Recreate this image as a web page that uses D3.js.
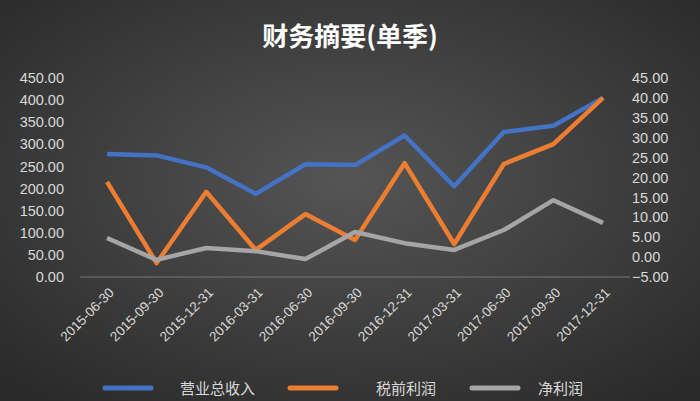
<!DOCTYPE html>
<html><head><meta charset="utf-8">
<script src="https://cdn.jsdelivr.net/npm/d3@7"></script>
<style>body{margin:0;}svg{display:block;font-family:"Noto Sans CJK SC","DejaVu Sans",sans-serif;}</style>
</head><body><svg id="c" width="700" height="401"></svg>
<script>
const dates = ["2015-06-30","2015-09-30","2015-12-31","2016-03-31","2016-06-30","2016-09-30","2016-12-31","2017-03-31","2017-06-30","2017-09-30","2017-12-31"];
const revenue = [278, 275, 248, 188, 255, 253, 320, 205, 328, 342, 405];
const pretax = [18.9, -1.5, 16.4, 1.8, 10.8, 4.3, 23.6, 3.3, 23.4, 28.4, 40.0];
const netProfit = [4.8, -0.7, 2.3, 1.5, -0.5, 6.3, 3.5, 1.8, 6.8, 14.3, 8.6];
const leftTicks = d3.range(0, 451, 50);
const rightTicks = d3.range(-5, 46, 5);

const svg = d3.select("#c");
const defs = svg.append("defs");
const g = defs.append("radialGradient").attr("id", "bg").attr("cx", "50%").attr("cy", "45%").attr("r", "70%");
g.append("stop").attr("offset", "0%").attr("stop-color", "#555");
g.append("stop").attr("offset", "100%").attr("stop-color", "#2a2a2a");
svg.append("rect").attr("width", 700).attr("height", 401).attr("fill", "url(#bg)");

svg.append("text").attr("x", 350).attr("y", 46).attr("text-anchor", "middle")
  .attr("fill", "#fff").attr("font-size", 26).attr("font-weight", "bold").text("财务摘要(单季)");

const x = d3.scalePoint().domain(dates).range([107, 603]);
const yL = d3.scaleLinear().domain([0, 450]).range([277, 78]);
const yR = d3.scaleLinear().domain([-5, 45]).range([277, 78]);

svg.append("g").attr("transform", "translate(68,0)")
  .call(d3.axisLeft(yL).tickValues(leftTicks).tickFormat(d3.format(".2f")).tickSize(0).tickPadding(4))
  .call(a => a.select(".domain").remove())
  .selectAll("text").attr("fill", "#d9d9d9").attr("font-size", 14.5).attr("font-family", "Liberation Sans, Arial");
svg.append("g").attr("transform", "translate(630,0)")
  .call(d3.axisRight(yR).tickValues(rightTicks).tickFormat(d3.format(".2f")).tickSize(0).tickPadding(2))
  .call(a => a.select(".domain").remove())
  .selectAll("text").attr("fill", "#d9d9d9").attr("font-size", 14.5).attr("font-family", "Liberation Sans, Arial");

svg.append("line").attr("x1", 80).attr("x2", 630).attr("y1", yL(0)).attr("y2", yL(0)).attr("stroke", "#777");

const xa = svg.append("g").attr("transform", "translate(4,290)")
  .call(d3.axisBottom(x).tickSize(0).tickPadding(0));
xa.select(".domain").remove();
xa.selectAll("text").attr("fill", "#d9d9d9").attr("font-size", 13.5).attr("font-family", "Liberation Sans, Arial")
  .attr("text-anchor", "end").attr("dy", "0.35em").attr("transform", "rotate(-45)");

const line = s => d3.line().x((d, i) => x(dates[i])).y(d => s(d));
[[revenue, yL, "#4472c4"], [pretax, yR, "#ed7d31"], [netProfit, yR, "#a5a5a5"]].forEach(([data, s, c]) => {
  svg.append("path").datum(data).attr("d", line(s)).attr("fill", "none")
    .attr("stroke", c).attr("stroke-width", 4.5).attr("stroke-linejoin", "round");
});

const legend = [["营业总收入", "#4472c4", 105, 180], ["税前利润", "#ed7d31", 290, 376], ["净利润", "#a5a5a5", 472, 538]];
legend.forEach(([t, c, lx, tx]) => {
  svg.append("line").attr("x1", lx).attr("x2", lx + 46).attr("y1", 388).attr("y2", 388)
    .attr("stroke", c).attr("stroke-width", 5).attr("stroke-linecap", "round");
  svg.append("text").attr("x", tx).attr("y", 394).attr("fill", "#d9d9d9")
    .attr("font-size", 15).text(t);
});
</script></body></html>
